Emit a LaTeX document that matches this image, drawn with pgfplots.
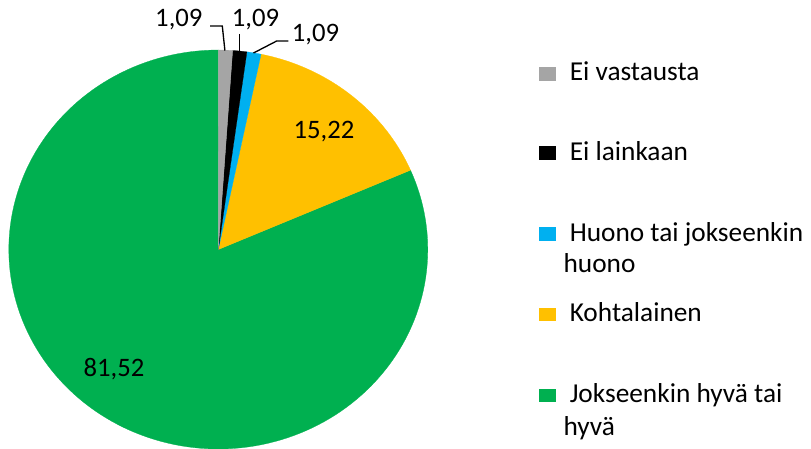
\documentclass[border=0pt]{standalone}
\usepackage{fontspec}
\setmainfont{Carlito}
\usepackage{pgfplots}
\usepackage{pgfplotstable}
\pgfplotsset{compat=1.18}
\definecolor{cgray}{HTML}{A5A5A5}
\definecolor{cblack}{HTML}{000000}
\definecolor{cblue}{HTML}{00B0F0}
\definecolor{cyellow}{HTML}{FFC000}
\definecolor{cgreen}{HTML}{00B050}
\pgfplotstableread{
slice value
EiVastausta 1.09
EiLainkaan 1.09
Huono 1.09
Kohtalainen 15.22
Hyva 81.52
}\piedata
\pgfplotstablegetelem{0}{value}\of\piedata \let\vA\pgfplotsretval
\pgfplotstablegetelem{1}{value}\of\piedata \let\vB\pgfplotsretval
\pgfplotstablegetelem{2}{value}\of\piedata \let\vC\pgfplotsretval
\pgfplotstablegetelem{3}{value}\of\piedata \let\vD\pgfplotsretval
\pgfplotstablegetelem{4}{value}\of\piedata \let\vE\pgfplotsretval
\pgfmathsetmacro\aA{90}
\pgfmathsetmacro\aB{\aA-3.6*\vA}
\pgfmathsetmacro\aC{\aB-3.6*\vB}
\pgfmathsetmacro\aD{\aC-3.6*\vC}
\pgfmathsetmacro\aE{\aD-3.6*\vD}
\pgfmathsetmacro\aF{\aE-3.6*\vE}
\newcommand\lab{\fontsize{20}{24}\selectfont}
\newcommand\leg{\fontsize{20.5}{24}\selectfont}
\begin{document}%
\begin{tikzpicture}[x=0.75pt,y=0.75pt]
\useasboundingbox (0,0) rectangle (811,-449);
\begin{axis}[at={(163.725pt,-187.125pt)}, anchor=center,
  width=314.25pt, height=299.25pt, scale only axis, hide axis,
  xmin=-1, xmax=1, ymin=-1, ymax=1, clip=false]
\addplot[fill=cgreen, draw=cgreen, line width=0.2pt, domain=\aF:\aE, samples=160, variable=\t] ({cos(\t)},{sin(\t)}) -- (0,0) -- cycle;
\addplot[fill=cyellow, draw=cyellow, line width=0.2pt, domain=\aE:\aD, samples=40, variable=\t] ({cos(\t)},{sin(\t)}) -- (0,0) -- cycle;
\addplot[fill=cblue, draw=cblue, line width=0.2pt, domain=\aD:\aC, samples=5, variable=\t] ({cos(\t)},{sin(\t)}) -- (0,0) -- cycle;
\addplot[fill=cblack, draw=cblack, line width=0.2pt, domain=\aC:\aB, samples=5, variable=\t] ({cos(\t)},{sin(\t)}) -- (0,0) -- cycle;
\addplot[fill=cgray, draw=cgray, line width=0.2pt, domain=\aB:\aA, samples=5, variable=\t] ({cos(\t)},{sin(\t)}) -- (0,0) -- cycle;
\end{axis}
% leader lines
\draw[line width=1pt] (210,-26) -- (222.3,-26) -- (224.9,-50.5);
\draw[line width=1pt] (239.5,-34) -- (239.5,-51);
\draw[line width=1pt] (288.3,-41) -- (276.7,-41) -- (253.5,-53);
% data labels
\node[anchor=base east, inner sep=0pt, font=\lab] at (202.7,-26.7) {1,09};
\node[anchor=base west, inner sep=0pt, font=\lab] at (231.7,-26.7) {1,09};
\node[anchor=base west, inner sep=0pt, font=\lab] at (291.7,-41.7) {1,09};
\node[anchor=base west, inner sep=0pt, font=\lab] at (293.3,-138.3) {15,22};
\node[anchor=base west, inner sep=0pt, font=\lab] at (83.3,-376.7) {81,52};
% legend
\fill[cgray]   (539,-67) rectangle (555.5,-80.7);
\fill[cblack]  (539,-146.5) rectangle (555.5,-160.3);
\fill[cblue]   (539,-227) rectangle (555.5,-240.7);
\fill[cyellow] (539,-307.5) rectangle (555.5,-321.3);
\fill[cgreen]  (539,-388.5) rectangle (555.5,-402.3);
\node[anchor=base west, inner sep=0pt, font=\leg] at (569.5,-81) {Ei vastausta};
\node[anchor=base west, inner sep=0pt, font=\leg] at (569.5,-160.7) {Ei lainkaan};
\node[anchor=base west, inner sep=0pt, font=\leg] at (569.5,-241.7) {Huono tai jokseenkin};
\node[anchor=base west, inner sep=0pt, font=\leg] at (563.3,-272.7) {huono};
\node[anchor=base west, inner sep=0pt, font=\leg] at (569.5,-321.7) {Kohtalainen};
\node[anchor=base west, inner sep=0pt, font=\leg] at (569.5,-402.7) {Jokseenkin hyvä tai};
\node[anchor=base west, inner sep=0pt, font=\leg] at (563.3,-435) {hyvä};
\end{tikzpicture}%
\end{document}
